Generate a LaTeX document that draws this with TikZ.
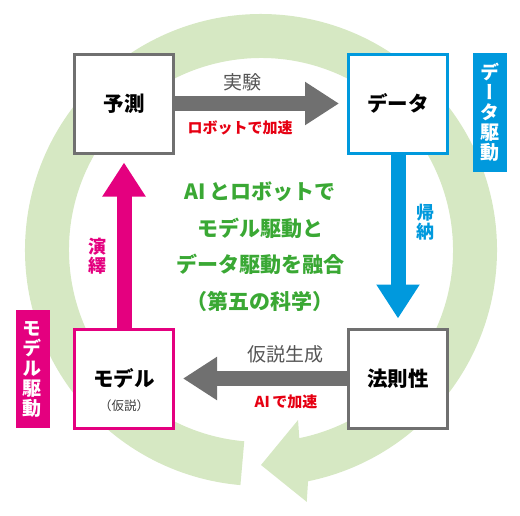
\documentclass[tikz,border=0pt]{standalone}
\usepackage{fontspec}
\setmainfont{Noto Sans CJK JP}
\newfontfamily\jpv[RawFeature=+vert]{Noto Sans CJK JP}
\usetikzlibrary{arrows.meta}
\definecolor{ringg}{RGB}{214,232,195}
\definecolor{agray}{RGB}{112,112,112}
\definecolor{tgray}{RGB}{85,85,85}
\definecolor{ablue}{RGB}{0,153,221}
\definecolor{amag}{RGB}{228,0,127}
\definecolor{tgreen}{RGB}{58,168,52}
\definecolor{tred}{RGB}{230,0,18}
\begin{document}
\begin{tikzpicture}[x=1pt,y=1pt,
  box/.style={draw=#1, line width=3pt, fill=white, minimum width=99pt, minimum height=99pt, inner sep=0pt, font=\fontsize{20.5}{22}\selectfont\bfseries},
  fat/.style={draw=#1, line width=15pt, -{Triangle[width=41pt,length=34pt]}, shorten >=8pt},
  tag/.style={fill=#1, text=white, minimum width=34pt, inner sep=0pt, align=center, font=\jpv\fontsize{19}{20}\selectfont\bfseries},
  lab/.style={font=\fontsize{19}{21}\selectfont, text=tgray},
  acc/.style={font=\fontsize{15}{17}\selectfont\bfseries, text=tred},
  vlab/.style={align=center, inner sep=0pt, text=#1, font=\fontsize{18}{19.5}\selectfont\bfseries}]
\useasboundingbox (0,0) rectangle (520,-515);
% green circular arrow
\coordinate (C) at (261,-250);
\fill[ringg] ([shift={(C)}]265:236) arc[start angle=265, end angle=-78.5, radius=236]
  -- ([shift={(C)}]-79.7:256) -- ([shift={(C)}]-90:215) -- ([shift={(C)}]-77.7:174)
  -- ([shift={(C)}]-78.5:192) arc[start angle=-78.5, end angle=265, radius=192] -- cycle;
% boxes
\node[box=agray] (yosoku) at (124,-103.5) {予測};
\node[box=ablue] (data) at (398,-103.5) {データ};
\node[box=amag] (model) at (124,-378.5) {\raisebox{-1pt}{モデル}};
\node[box=agray] (hosoku) at (398,-378.5) {法則性};
\node[font=\fontsize{12.5}{14}\selectfont, text=tgray!70!black] (kasetsu) at (124,-405.5) {（仮説）};
% arrows
\draw[fat=agray] (yosoku.east) -- (data.west);
\draw[fat=ablue, shorten >=9pt] (data.south) -- (hosoku.north);
\draw[fat=agray] (hosoku.west) -- (model.east);
\draw[fat=amag] (model.north) -- (yosoku.south);
% labels
\node[lab] (jikken) at (242,-82) {実験};
\node[acc] (robo) at (240,-128) {ロボットで加速};
\node[lab] (kasetsuseisei) at (285,-354) {仮説生成};
\node[acc] (aiacc) at (286,-402) {AI\,で加速};
\node[vlab=ablue] (kino) at (425,-222) {帰\\納};
\node[vlab=amag] (eneki) at (97,-256) {演\\繹};
% tags
\node[tag=ablue, minimum height=119pt] (dtag) at (490,-112.5) {デ\\ー\\タ\\駆\\動};
\node[tag=amag, minimum height=118pt] (mtag) at (32.5,-369) {モ\\デ\\ル\\駆\\動};
% centre text
\node[align=center, text=tgreen, font=\fontsize{21}{36.5}\selectfont\bfseries] (center) at (260,-246.5)
  {AI\,とロボットで\\モデル駆動と\\データ駆動を融合\\（第五の科学）};
\end{tikzpicture}
\end{document}
